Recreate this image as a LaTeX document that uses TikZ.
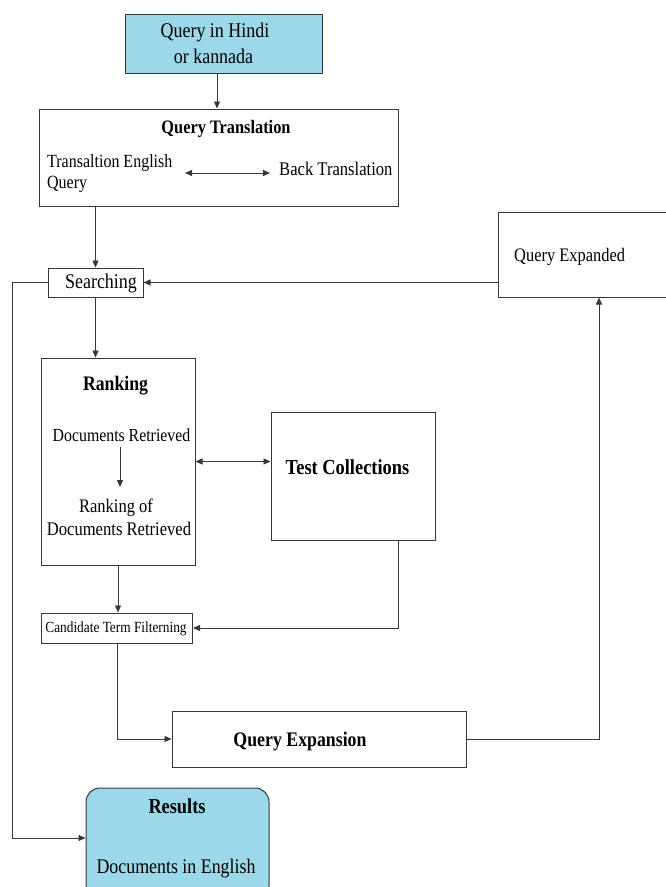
\documentclass[tikz,border=0pt]{standalone}
\usepackage{fontspec}
\setmainfont[FakeStretch=0.86]{Liberation Serif}
\usetikzlibrary{arrows.meta,calc}
\definecolor{boxblue}{RGB}{155,216,234}
\definecolor{edge}{RGB}{55,55,55}
\newcommand\myfs[1]{\fontsize{#1}{#1}\selectfont}
\tikzset{
  box/.style={draw=edge, line width=1pt, rectangle, inner sep=0pt},
  lbl/.style={inner sep=0pt, anchor=base},
  lblw/.style={inner sep=0pt, anchor=base west},
  arr/.style={draw=edge, line width=0.9pt, -{Triangle[length=7pt,width=6pt]}},
  dbl/.style={draw=edge, line width=0.9pt, {Triangle[length=7pt,width=6pt]}-{Triangle[length=7pt,width=6pt]}}
}
\begin{document}
\begin{tikzpicture}[x=1pt,y=-1pt]
\fill[white] (0,0) rectangle (665,887);
\useasboundingbox (0,0) rectangle (665,887);

% boxes
\node[box, fill=boxblue, minimum width=197pt, minimum height=59pt] (qin) at (223.5,43.5) {};
\node[box, minimum width=359pt, minimum height=97pt] (qt) at (218.5,157.5) {};
\node[box, minimum width=95pt, minimum height=29pt] (search) at (95.5,282.5) {};
\node[box, minimum width=169pt, minimum height=85pt] (qexp) at (582.5,254.5) {};
\node[box, minimum width=154pt, minimum height=207pt] (rank) at (118,461.5) {};
\node[box, minimum width=164pt, minimum height=128pt] (tc) at (353,476) {};
\node[box, minimum width=151pt, minimum height=30pt] (cand) at (117,628) {};
\node[box, minimum width=294pt, minimum height=56pt] (qe) at (319,739) {};
\node[box, fill=boxblue, rounded corners=14pt, minimum width=183pt, minimum height=112pt] (res) at (177.5,844) {};

% texts
\node[lbl] (t1) at (215,37.7) {\myfs{20.9}Query in Hindi};
\node[lbl] (t2) at (213.5,63) {\myfs{20.9}or kannada};
\node[lbl] (t3) at (226,133) {\myfs{19}\bfseries Query Translation};
\node[lblw] (t4) at (47,167) {\myfs{18.6}Transaltion English};
\node[lblw] (t5) at (47,188) {\myfs{18.6}Query};
\node[lblw] (t6) at (279,175) {\myfs{19.3}Back Translation};
\node[lbl] (t7) at (101,288) {\myfs{20.9}Searching};
\node[lblw] (t8) at (514,261) {\myfs{19.1}Query Expanded};
\node[lbl] (t9) at (115.5,390.7) {\myfs{20.6}\bfseries Ranking};
\node[lbl] (t10) at (121.5,441) {\myfs{18.4}Documents Retrieved};
\node[lbl] (t11) at (116,512.7) {\myfs{19.2}Ranking of};
\node[lbl] (t12) at (119,535) {\myfs{19.3}Documents Retrieved};
\node[lbl] (t13) at (347.5,474) {\myfs{21.4}\bfseries Test Collections};
\node[lbl] (t14) at (116,632) {\myfs{15.5}Candidate Term Filterning};
\node[lbl] (t15) at (300,746.7) {\myfs{20.7}\bfseries Query Expansion};
\node[lbl] (t16) at (177,813) {\myfs{21.3}\bfseries Results};
\node[lbl] (t17) at (176,873) {\myfs{20.8}Documents in English};

% helper coordinates
\coordinate (qa1) at (185,173);
\coordinate (qa2) at (270,173);
\coordinate (ra1) at (120,447);
\coordinate (ra2) at (120,487);
\coordinate (lx) at (12,838);

% connectors
\draw[arr] ([xshift=-6.5pt]qin.south) -- ([xshift=-6.5pt]qin.south |- qt.north);
\draw[dbl] (qa1) -- (qa2);
\draw[arr] (search.north |- qt.south) -- (search.north);
\draw[arr] (qexp.west |- search.east) -- (search.east);
\draw[arr] (search.west) -| (lx) -- (lx -| res.west);
\draw[arr] (search.south) -- (search.south |- rank.north);
\draw[arr] (ra1) -- (ra2);
\draw[dbl] (rank.east) -- (rank.east -| tc.west);
\draw[arr] (rank.south) -- (rank.south |- cand.north);
\draw[arr] ([xshift=45pt]tc.south) |- (cand.east);
\draw[arr] (cand.south) |- (qe.west);
\draw[arr] (qe.east) -| ([xshift=16.5pt]qexp.south);
\end{tikzpicture}
\end{document}
